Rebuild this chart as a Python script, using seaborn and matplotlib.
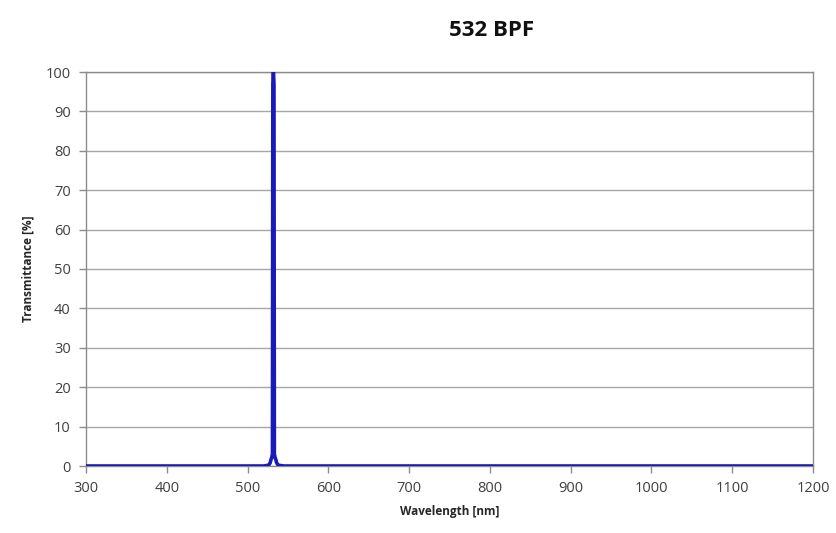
import matplotlib
matplotlib.use("Agg")
import matplotlib.pyplot as plt
import seaborn as sns
import pandas as pd

wavelength = [300, 400, 500, 520, 526, 528, 529, 530, 530.8, 531.3, 532, 532.7, 533.2, 534, 535, 536, 538, 545, 600, 700, 800, 900, 1000, 1100, 1200]
transmittance = [0, 0, 0, 0, 0.2, 0.8, 1.6, 2.2, 3.0, 97, 100, 97, 3.0, 2.2, 1.6, 0.8, 0.2, 0, 0, 0, 0, 0, 0, 0, 0]
x_ticks = [300, 400, 500, 600, 700, 800, 900, 1000, 1100, 1200]
y_ticks = [0, 10, 20, 30, 40, 50, 60, 70, 80, 90, 100]
title = "532 BPF"
x_label = "Wavelength [nm]"
y_label = "Transmittance [%]"

sns.set_theme(style="white")
plt.rcParams['font.family'] = ['Open Sans', 'DejaVu Sans']

df = pd.DataFrame({"wl": wavelength, "T": transmittance})

fig = plt.figure(figsize=(8.37, 5.33), dpi=100)
ax = fig.add_axes([86/837, 67/533, 727/837, 394/533])
sns.lineplot(data=df, x="wl", y="T", ax=ax, color="#1a1ab8", linewidth=2.6, zorder=3)
ax.set_xlim(300, 1200)
ax.set_ylim(0, 100)
ax.set_xticks(x_ticks)
ax.set_yticks(y_ticks)
ax.set_xticklabels([str(v) for v in x_ticks], fontsize=10.5, color="#404040")
ax.set_yticklabels([str(v) for v in y_ticks], fontsize=10.5, color="#404040")
ax.yaxis.grid(True, color="#a6a6a6", linewidth=1)
ax.xaxis.grid(False)
for s in ax.spines.values():
    s.set_color("#8c8c8c")
    s.set_linewidth(1)
ax.tick_params(axis="both", which="both", direction="out", length=5, color="#8c8c8c", width=1, pad=6,
               bottom=True, left=True)
ax.set_xlabel(x_label, fontsize=8.5, fontweight="bold", color="#262626", labelpad=6)
ax.set_ylabel(y_label, fontsize=8.5, fontweight="bold", color="#262626", labelpad=8)
fig.text(492/837, 1 - 30/533, title, ha="center", va="center", fontsize=16, fontweight="bold", color="#111111")
fig.savefig("out.png", dpi=100, facecolor="white")
